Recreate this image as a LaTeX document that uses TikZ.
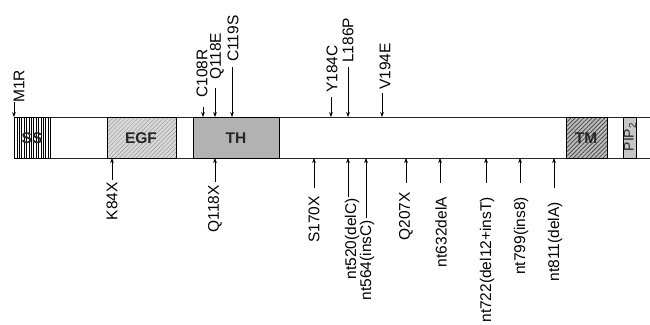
\documentclass[tikz,border=0pt]{standalone}
\usepackage{fontspec}
\setmainfont{Liberation Sans}
\usetikzlibrary{arrows.meta,patterns.meta}
\newcommand\mutup[6]{%
  \coordinate (#1-s) at (#2,#3);
  \coordinate (#1-e) at (#2,117);
  \node[uplab] (#1) at (#4,#5) {#6};
  \draw[mutarrow] (#1-s) -- (#1-e);}
\newcommand\mutdown[6]{%
  \coordinate (#1-s) at (#2,#3);
  \coordinate (#1-e) at (#2,158);
  \node[downlab] (#1) at (#4,#5) {#6};
  \draw[mutarrow] (#1-s) -- (#1-e);}
\begin{document}
\begin{tikzpicture}[x=1pt,y=-1pt,
  lab/.style={font=\fontsize{15.5}{15.5}\selectfont, inner sep=0pt, rotate=90},
  uplab/.style={lab, anchor=west},
  downlab/.style={lab, anchor=east},
  mutarrow/.style={line width=0.75pt, -{Stealth[length=5pt,width=3.8pt]}},
  dom/.style={draw=black, line width=0.8pt},
  domtext/.style={font=\fontsize{15.5}{15.5}\selectfont\bfseries, inner sep=0pt, text=black!85}]
\useasboundingbox (0,0) rectangle (650,324);
% protein bar
\draw[line width=1pt, black!85] (650,117) -- (14,117) -- (14,158) -- (650,158);
% domains
\fill[white] (14,117) rectangle (50,158);
\fill[pattern={Lines[angle=90,distance=2.4pt,line width=0.4pt]}] (14,117) rectangle (50,158);
\draw[dom] (14,117) rectangle (50,158);
\fill[gray!30] (107,117) rectangle (176,158);
\fill[pattern={Lines[angle=45,distance=3pt,line width=0.5pt]},pattern color=gray!80] (107,117) rectangle (176,158);
\draw[dom] (107,117) rectangle (176,158);
\fill[gray!60] (193,117) rectangle (279,158);
\draw[dom] (193,117) rectangle (279,158);
\fill[gray!55] (566,117) rectangle (607,158);
\fill[pattern={Lines[angle=45,distance=3pt,line width=0.7pt]},pattern color=black!75] (566,117) rectangle (607,158);
\draw[dom] (566,117) rectangle (607,158);
\fill[gray!45] (623,117) rectangle (636,158);
\draw[dom] (623,117) rectangle (636,158);
\node[domtext] (ss) at (32,138) {SS};
\node[domtext] (egf) at (141,138) {EGF};
\node[domtext] (th) at (236,138) {TH};
\node[domtext] (tm) at (586,138) {TM};
\node[font=\fontsize{14}{14}\selectfont, inner sep=0pt, rotate=90, text=black!85] (pip) at (630,137) {PIP\textsubscript{2}};
% mutations above
\mutup{m1r}{14}{102}{19}{103}{M1R}
\mutup{c108r}{203}{107}{202}{98}{C108R}
\mutup{q118e}{215}{88}{217}{80}{Q118E}
\mutup{c119s}{232}{67}{233}{62}{C119S}
\mutup{y184c}{331}{97}{332}{93}{Y184C}
\mutup{l186p}{348}{67}{348}{63}{L186P}
\mutup{v194e}{382}{93}{385}{90}{V194E}
% mutations below
\mutdown{k84x}{112}{180}{112}{182}{K84X}
\mutdown{q118x}{215}{182}{215}{185}{Q118X}
\mutdown{s170x}{314}{188}{314}{196}{S170X}
\mutdown{nt520}{348}{197}{352}{198}{nt520(delC)}
\mutdown{nt564}{366}{218}{367}{220}{nt564(insC)}
\mutdown{q207x}{406}{183}{406}{192}{Q207X}
\mutdown{nt632}{440}{183}{441}{197}{nt632delA}
\mutdown{nt722}{486}{183}{487}{197}{nt722(del12+insT)}
\mutdown{nt799}{520}{183}{521}{197}{nt799(ins8)}
\mutdown{nt811}{554}{188}{555}{202}{nt811(delA)}
\end{tikzpicture}
\end{document}
